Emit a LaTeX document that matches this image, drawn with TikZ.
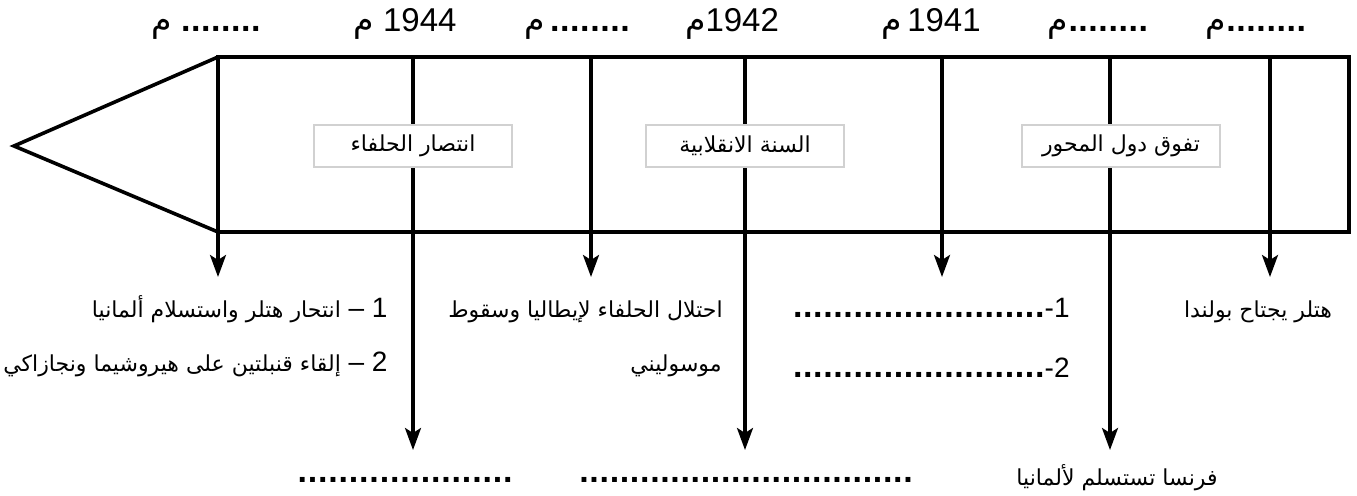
\documentclass[tikz,border=0pt]{standalone}
\usepackage{fontspec}
\setmainfont{Liberation Sans}
\newfontfamily\arabicfont[Script=Arabic]{DejaVu Sans}
\TeXXeTstate=1
\usetikzlibrary{arrows.meta}
\newcommand{\AR}[1]{{\arabicfont\beginR #1\endR}}
\newcommand{\dotsrow}[1]{{\fontsize{17pt}{18pt}\selectfont\bfseries\makebox[#1]{\xleaders\hbox to 5pt{\hss.\hss}\hfill}}}
\begin{document}
\begin{tikzpicture}[x=0.5pt,y=-0.5pt,
  frame/.style={line width=1.8pt, line join=miter},
  arr/.style={line width=1.6pt, -{Stealth[length=11pt,width=8pt,inset=2.5pt]}},
  labelbox/.style={draw=black!18, line width=0.8pt, fill=white, minimum width=99pt, minimum height=21pt, inner sep=0pt, font=\fontsize{11pt}{13pt}\selectfont},
  year/.style={font=\fontsize{16.5pt}{20pt}\selectfont, inner sep=0pt, anchor=base},
  row/.style={font=\fontsize{14pt}{16pt}\selectfont, inner sep=0pt},
  artext/.style={font=\fontsize{11pt}{14pt}\selectfont, inner sep=0pt},
]
\useasboundingbox (0,0) rectangle (1357,496);
% frame: rectangle and arrow point
\draw[frame] (218,57) rectangle (1349,232);
\draw[frame] (218,57) -- (14,146) -- (218,232);
% coordinates of the connectors
\coordinate (a0) at (218,232);  \coordinate (a1) at (218,277);
\coordinate (b0) at (413,57);   \coordinate (b1) at (413,450);
\coordinate (c0) at (591,57);   \coordinate (c1) at (591,277);
\coordinate (d0) at (745,57);   \coordinate (d1) at (745,450);
\coordinate (e0) at (942,57);   \coordinate (e1) at (942,277);
\coordinate (f0) at (1110,57);  \coordinate (f1) at (1110,450);
\coordinate (g0) at (1270,57);  \coordinate (g1) at (1270,277);
\foreach \n in {a,b,c,d,e,f,g} \draw[arr] (\n0) -- (\n1);
% boxes inside the band
\node[labelbox] (b1box) at (413,146) {\AR{انتصار الحلفاء}};
\node[labelbox] (b2box) at (745,146) {\AR{السنة الانقلابية}};
\node[labelbox] (b3box) at (1121,146) {\AR{تفوق دول المحور}};
% years on top
\node[year] (t1) at (206,32) {\AR{م} \dotsrow{40pt}};
\node[year] (t2) at (405,32) {\AR{م} 1944};
\node[year] (t3) at (577,32) {\AR{م}\,\dotsrow{40pt}};
\node[year] (t4) at (732,32) {\AR{م}1942};
\node[year] (t5) at (931,32) {\AR{م}\,1941};
\node[year] (t6) at (1098,32) {\AR{م}\dotsrow{40pt}};
\node[year] (t7) at (1256,32) {\AR{م}\dotsrow{40pt}};
% events below
\node[row, anchor=base east] (l1) at (388,318) {{\fontsize{11pt}{14pt}\selectfont\AR{انتحار هتلر واستسلام ألمانيا}} – 1};
\node[row, anchor=base east] (l2) at (388,372) {{\fontsize{11pt}{14pt}\selectfont\AR{إلقاء قنبلتين على هيروشيما ونجازاكي}} – 2};
\node[artext, anchor=base east] (m1) at (723,318) {\AR{احتلال الحلفاء لإيطاليا وسقوط}};
\node[artext, anchor=base east] (m2) at (722,372) {\AR{موسوليني}};
\node[row, anchor=base east] (r1) at (1070,318) {\dotsrow{126pt}-1};
\node[row, anchor=base east] (r2) at (1070,378) {\dotsrow{126pt}-2};
\node[artext, anchor=base] (h1) at (1258,318) {\AR{هتلر يجتاح بولندا}};
\node[row, anchor=base] (z1) at (405,483) {\dotsrow{108pt}};
\node[row, anchor=base] (z2) at (746,483) {\dotsrow{167pt}};
\node[artext, anchor=base] (z3) at (1117,486) {\AR{فرنسا تستسلم لألمانيا}};
\end{tikzpicture}
\end{document}
